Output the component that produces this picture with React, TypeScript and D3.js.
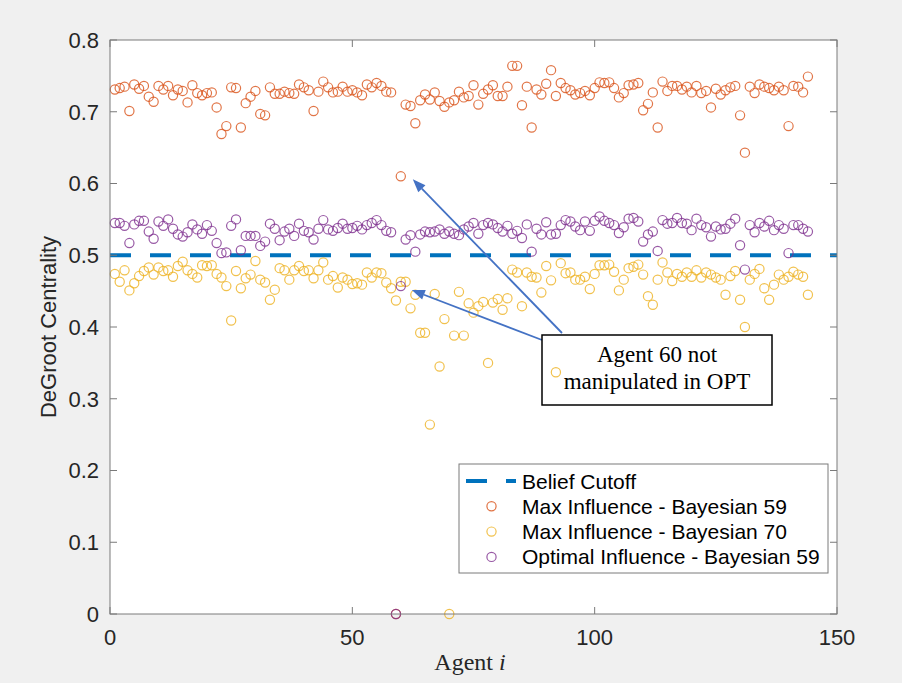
import React from "react";
import * as d3 from "d3";

const maxInfl59: number[] = [
  0.731,0.733,0.735,0.701,0.738,0.732,0.736,0.721,0.714,0.736,
  0.731,0.736,0.723,0.731,0.729,0.713,0.737,0.726,0.723,0.726,
  0.727,0.706,0.669,0.680,0.734,0.733,0.678,0.712,0.721,0.729,
  0.697,0.695,0.734,0.725,0.725,0.728,0.726,0.725,0.738,0.734,
  0.730,0.701,0.728,0.742,0.734,0.727,0.728,0.735,0.728,0.730,
  0.727,0.723,0.738,0.734,0.740,0.736,0.728,0.727,0,0.610,
  0.710,0.708,0.684,0.716,0.724,0.717,0.727,0.715,0.707,0.713,
  0.716,0.728,0.720,0.722,0.737,0.710,0.725,0.731,0.737,0.722,
  0.722,0.735,0.764,0.764,0.709,0.735,0.678,0.731,0.724,0.739,
  0.758,0.722,0.740,0.733,0.730,0.724,0.726,0.729,0.723,0.733,
  0.741,0.740,0.741,0.733,0.720,0.726,0.737,0.738,0.740,0.702,
  0.711,0.727,0.678,0.742,0.729,0.736,0.736,0.731,0.735,0.727,
  0.736,0.726,0.729,0.706,0.732,0.724,0.730,0.734,0.736,0.695,
  0.643,0.735,0.726,0.738,0.735,0.733,0.730,0.735,0.730,0.680,
  0.736,0.735,0.727,0.749,
];

const maxInfl70: number[] = [
  0.474,0.463,0.479,0.451,0.461,0.471,0.478,0.483,0.473,0.483,
  0.478,0.479,0.470,0.485,0.491,0.479,0.474,0.469,0.486,0.485,
  0.486,0.474,0.469,0.457,0.409,0.478,0.454,0.468,0.473,0.492,
  0.466,0.462,0.438,0.452,0.482,0.479,0.466,0.479,0.485,0.478,
  0.479,0.468,0.479,0.490,0.466,0.471,0.455,0.469,0.466,0.460,
  0.461,0.459,0.476,0.469,0.476,0.475,0.462,0.454,0.437,0.463,
  0.463,0.426,0.445,0.392,0.392,0.264,0.446,0.345,0.411,0,
  0.388,0.449,0.388,0.433,0.420,0.429,0.435,0.350,0.434,0.439,
  0.424,0.440,0.480,0.476,0.429,0.476,0.470,0.469,0.448,0.485,
  0.465,0.337,0.489,0.475,0.476,0.466,0.466,0.470,0.453,0.474,
  0.486,0.486,0.487,0.477,0.451,0.466,0.482,0.484,0.487,0.473,
  0.443,0.431,0.466,0.490,0.476,0.464,0.474,0.470,0.476,0.470,
  0.479,0.469,0.476,0.473,0.469,0.466,0.445,0.471,0.478,0.438,
  0.400,0.466,0.474,0.481,0.454,0.438,0.459,0.473,0.466,0.470,
  0.477,0.473,0.470,0.445,
];

const optInfl59: number[] = [
  0.545,0.545,0.541,0.517,0.543,0.548,0.548,0.533,0.523,0.547,
  0.541,0.550,0.537,0.529,0.526,0.532,0.543,0.536,0.530,0.542,
  0.534,0.517,0.503,0.504,0.541,0.550,0.507,0.527,0.527,0.527,
  0.513,0.519,0.544,0.537,0.521,0.533,0.537,0.527,0.544,0.534,
  0.532,0.522,0.537,0.549,0.536,0.534,0.538,0.544,0.537,0.538,
  0.541,0.536,0.542,0.545,0.549,0.542,0.534,0.532,0,0.457,
  0.522,0.528,0.505,0.529,0.533,0.532,0.533,0.536,0.530,0.533,
  0.530,0.528,0.536,0.540,0.545,0.530,0.542,0.545,0.543,0.538,
  0.533,0.541,0.530,0.534,0.524,0.543,0.505,0.537,0.529,0.546,
  0.529,0.530,0.542,0.549,0.547,0.540,0.535,0.547,0.534,0.548,
  0.554,0.548,0.545,0.542,0.531,0.539,0.551,0.552,0.547,0.519,
  0.529,0.533,0.506,0.549,0.544,0.545,0.552,0.545,0.544,0.535,
  0.551,0.542,0.539,0.526,0.540,0.536,0.537,0.544,0.551,0.514,
  0.480,0.542,0.532,0.545,0.540,0.548,0.535,0.542,0.537,0.503,
  0.542,0.542,0.537,0.533,
];

const beliefCutoff = 0.5;
const xTicks = [0, 50, 100, 150];
const yTicks = [0, 0.1, 0.2, 0.3, 0.4, 0.5, 0.6, 0.7, 0.8];
const legendLabels = [
  "Belief Cutoff",
  "Max Influence - Bayesian 59",
  "Max Influence - Bayesian 70",
  "Optimal Influence - Bayesian 59",
];
const noteLines = ["Agent 60 not", "manipulated in OPT"];
const noteAgent = 60;

const W = 902, H = 683;
const L = 110, R = 837, T = 40, B = 614;
const C_BLUE = "#0072BD", C_OR = "#D95319", C_YE = "#EDB120", C_PU = "#7E2F8E";
const SANS = "'Liberation Sans', Arial, Helvetica, sans-serif";
const SERIF = "'Liberation Serif', 'Times New Roman', serif";

export default function App() {
  const x = d3.scaleLinear().domain([0, 150]).range([L, R]);
  const y = d3.scaleLinear().domain([0, 0.8]).range([B, T]);
  const series = [
    { data: maxInfl59, color: C_OR },
    { data: maxInfl70, color: C_YE },
    { data: optInfl59, color: C_PU },
  ];
  const arrow = (x1: number, y1: number, x2: number, y2: number, key: string) => {
    const ang = Math.atan2(y2 - y1, x2 - x1);
    const len = 13, hw = 5;
    const bx = x2 - len * Math.cos(ang), by = y2 - len * Math.sin(ang);
    const px = -Math.sin(ang) * hw, py = Math.cos(ang) * hw;
    return (
      <g key={key}>
        <line x1={x1} y1={y1} x2={bx} y2={by} stroke="#4472C4" strokeWidth={1.8} />
        <polygon points={`${x2},${y2} ${bx + px},${by + py} ${bx - px},${by - py}`} fill="#4472C4" />
      </g>
    );
  };
  const tickLen = 7;
  const tip1x = x(noteAgent) + 12, tip1y = y(maxInfl59[noteAgent - 1]) + 3;
  const tip2x = x(noteAgent) + 11, tip2y = y(optInfl59[noteAgent - 1]) + 4;
  const boxX = 542, boxY = 335, boxW = 230, boxH = 70;
  const legX = 459, legY = 464, legW = 369, legH = 109;
  return (
    <svg width={W} height={H} style={{ position: "absolute", left: 0, top: 0, display: "block" }}>
      <rect x={0} y={0} width={W} height={H} fill="#f0f0f0" />
      <rect x={L} y={T} width={R - L} height={B - T} fill="#ffffff" />
      <line x1={x(0)} x2={x(150)} y1={y(beliefCutoff)} y2={y(beliefCutoff)} stroke={C_BLUE} strokeWidth={4} strokeDasharray="21 19" />
      {series.map((s, si) => (
        <g key={si}>
          {s.data.map((v, i) => (
            <circle key={i} cx={x(i + 1)} cy={y(v)} r={4.6} fill="none" stroke={s.color} strokeWidth={1.2} strokeOpacity={0.8} />
          ))}
        </g>
      ))}
      <rect x={L} y={T} width={R - L} height={B - T} fill="none" stroke="#7a7a7a" strokeWidth={1} />
      {xTicks.map((t) => (
        <g key={"xt" + t}>
          <line x1={x(t)} x2={x(t)} y1={B} y2={B - tickLen} stroke="#7a7a7a" />
          <line x1={x(t)} x2={x(t)} y1={T} y2={T + tickLen} stroke="#7a7a7a" />
          <text x={x(t)} y={B + 31} textAnchor="middle" fontFamily={SANS} fontSize={22} fill="#262626">{t}</text>
        </g>
      ))}
      {yTicks.map((t) => (
        <g key={"yt" + t}>
          <line x1={L} x2={L + tickLen} y1={y(t)} y2={y(t)} stroke="#7a7a7a" />
          <line x1={R} x2={R - tickLen} y1={y(t)} y2={y(t)} stroke="#7a7a7a" />
          <text x={L - 11} y={y(t)} dy="0.36em" textAnchor="end" fontFamily={SANS} fontSize={22} fill="#262626">{t === 0 ? "0" : t.toFixed(1)}</text>
        </g>
      ))}
      <text transform={`translate(56,${(T + B) / 2}) rotate(-90)`} textAnchor="middle" fontFamily={SANS} fontSize={22} fill="#262626">DeGroot Centrality</text>
      <text x={470} y={670} textAnchor="middle" fontFamily={SERIF} fontSize={24} fill="#262626">
        Agent <tspan fontStyle="italic">i</tspan>
      </text>
      {arrow(562, boxY - 2, tip1x, tip1y, "a1")}
      {arrow(boxX, boxY + 5, tip2x, tip2y, "a2")}
      <rect x={boxX} y={boxY} width={boxW} height={boxH} fill="none" stroke="#000" strokeWidth={1.5} />
      {noteLines.map((ln, i) => (
        <text key={ln} x={boxX + boxW / 2} y={boxY + 27 + i * 27} textAnchor="middle" fontFamily={SERIF} fontSize={23} fill="#000">{ln}</text>
      ))}
      <rect x={legX} y={legY} width={legW} height={legH} fill="#ffffff" stroke="#7a7a7a" strokeWidth={1} />
      {legendLabels.map((lab, i) => {
        const cy = legY + 17 + i * 25.3;
        return (
          <g key={lab}>
            {i === 0 ? (
              <line x1={466} x2={516} y1={cy} y2={cy} stroke={C_BLUE} strokeWidth={4} strokeDasharray="21 19" />
            ) : (
              <circle cx={491.5} cy={cy} r={4.6} fill="none" stroke={series[i - 1].color} strokeWidth={1.2} strokeOpacity={0.8} />
            )}
            <text x={522} y={cy} dy="0.36em" fontFamily={SANS} fontSize={21} fill="#000">{lab}</text>
          </g>
        );
      })}
    </svg>
  );
}
